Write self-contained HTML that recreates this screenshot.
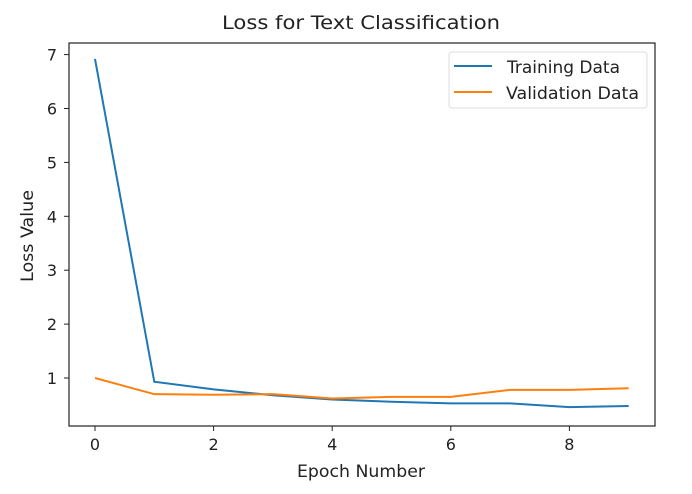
<!DOCTYPE html>
<html><head><meta charset="utf-8"><style>
body{margin:0;background:#fff;}
svg{display:block;font-family:"DejaVu Sans","Liberation Sans",sans-serif;}
</style></head><body>
<svg id="chart" width="692" height="494">
<rect x="0" y="0" width="692" height="494" fill="#fff"/>
<text x="361" y="29" text-anchor="middle" font-size="19" fill="#222" textLength="278" lengthAdjust="spacingAndGlyphs">Loss for Text Classification</text>
<g id="plot"></g>
<rect x="69" y="43" width="586" height="383" fill="none" stroke="#222" stroke-width="1.2"/>
<text x="361" y="477" text-anchor="middle" font-size="17" fill="#222" textLength="128" lengthAdjust="spacingAndGlyphs">Epoch Number</text>
<text transform="translate(33,236) rotate(-90)" text-anchor="middle" font-size="17" fill="#222" textLength="92" lengthAdjust="spacingAndGlyphs">Loss Value</text>
<g>
<rect x="449" y="52" width="198" height="56" rx="3" fill="#fff" stroke="#ddd"/>
<line x1="454" y1="66" x2="492" y2="66" stroke="#1f77b4" stroke-width="2"/>
<text x="507" y="73" font-size="17" fill="#222" textLength="113" lengthAdjust="spacingAndGlyphs">Training Data</text>
<line x1="454" y1="92" x2="492" y2="92" stroke="#ff7f0e" stroke-width="2"/>
<text x="506" y="99" font-size="17" fill="#222" textLength="133" lengthAdjust="spacingAndGlyphs">Validation Data</text>
</g>
</svg>
<script>
const epochs=[0,1,2,3,4,5,6,7,8,9];
const trainingLoss=[6.92,0.93,0.79,0.68,0.60,0.56,0.53,0.53,0.46,0.48];
const validationLoss=[1.0,0.70,0.69,0.70,0.62,0.65,0.65,0.78,0.78,0.81];
const xTicks=[0,2,4,6,8];
const yTicks=[1,2,3,4,5,6,7];
const NS="http://www.w3.org/2000/svg";
const g=document.getElementById('plot');
function xs(v){return 95+v*59.3;}
function ys(v){return 378-(v-1)*53.9;}
function mk(t,a){const e=document.createElementNS(NS,t);for(const k in a)e.setAttribute(k,a[k]);g.appendChild(e);return e;}
xTicks.forEach(v=>{
 const l=mk('line',{x1:xs(v),x2:xs(v),y1:426,y2:431,stroke:'#222'});
 
 
 const t=mk('text',{x:xs(v),y:450,'text-anchor':'middle','font-size':16,fill:'#222'});
 t.textContent=v;
 
 
});
yTicks.forEach(v=>{
 const l=mk('line',{x1:64,x2:69,y1:ys(v),y2:ys(v),stroke:'#222'});
 
 
 const t=mk('text',{x:57,y:ys(v)+6,'text-anchor':'end','font-size':16,fill:'#222'});
 t.textContent=v;
 
 
});
function line(vals,color,name){
 const p=mk('polyline',{points:vals.map((v,i)=>xs(epochs[i])+','+ys(v)).join(' '),fill:'none',stroke:color,'stroke-width':2});
 
 
}
line(trainingLoss,'#1f77b4','training-line');
line(validationLoss,'#ff7f0e','validation-line');
</script>
</body></html>
